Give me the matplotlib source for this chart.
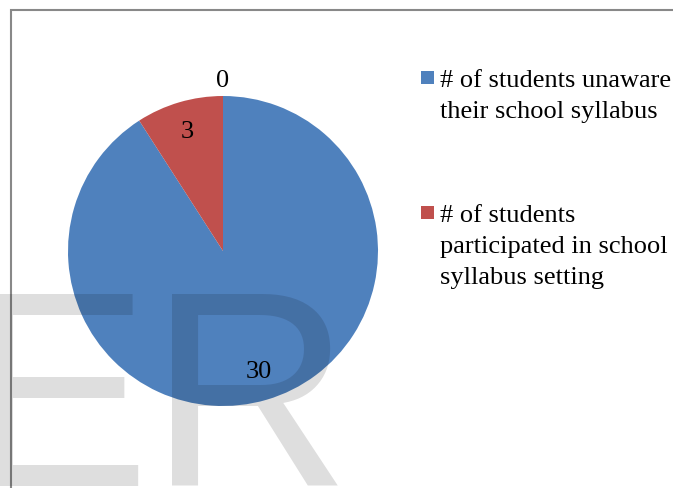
import numpy as np
import matplotlib.pyplot as plt
from matplotlib.patches import Rectangle

# slice values, legend labels and colours
values = [30, 3, 0]
legend_labels = [
    ["# of students unaware", "their school syllabus"],
    ["# of students", "participated in school", "syllabus setting"],
]
colors = ["#4F81BD", "#C0504D", "#9BBB59"]

W, H = 673, 489
fig = plt.figure(figsize=(W / 100, H / 100), dpi=100)


def fx(px):
    return px / W


def fy(py):
    # pixel row measured from the top
    return 1 - py / H


# pie centred at (223, 252) px with a 155 px radius
cx, cy, r = 223, 252, 155
ax = fig.add_axes([fx(cx - r), fy(cy + r), 2 * r / W, 2 * r / H])
wedges, _ = ax.pie(values, colors=colors, startangle=90, counterclock=False,
                   radius=1.0, wedgeprops=dict(linewidth=0))
ax.set_xlim(-1, 1)
ax.set_ylim(-1, 1)
ax.set_aspect("equal")
ax.axis("off")

# value labels, inside for real slices, just above the rim for the empty one
serif = "Liberation Serif"
fs = 19
for w, v in zip(wedges, values):
    ang = np.deg2rad((w.theta1 + w.theta2) / 2)
    dist = 0.81 if v > 0 else 1.10
    ax.text(dist * np.cos(ang), dist * np.sin(ang), str(v), ha="center",
            va="center", fontsize=fs, family=serif, color="black")

# legend drawn by hand: square marker aligned with the first line
entry_tops = [72, 207]
for lines, col, top in zip(legend_labels, colors, entry_tops):
    fig.patches.append(Rectangle((fx(421), fy(top + 13)), 13 / W, 13 / H,
                                 transform=fig.transFigure, facecolor=col,
                                 edgecolor="none"))
    for i, line in enumerate(lines):
        fig.text(fx(440), fy(top + 15 + 31 * i), line, ha="left",
                 va="baseline", fontsize=fs, family=serif, color="black")

# thin grey frame along the top and left
fig.patches.append(Rectangle((fx(11.5), -0.1), 1.2, fy(10.5) + 0.1,
                             transform=fig.transFigure, facecolor="none",
                             edgecolor="#888888", linewidth=1.5))

# large translucent lettering across the lower left
fig.text(fx(-37), fy(486), "ER", fontsize=201, family="Liberation Sans",
         color="black", alpha=0.13, ha="left", va="baseline", zorder=5)

fig.savefig("out.png", dpi=100)
